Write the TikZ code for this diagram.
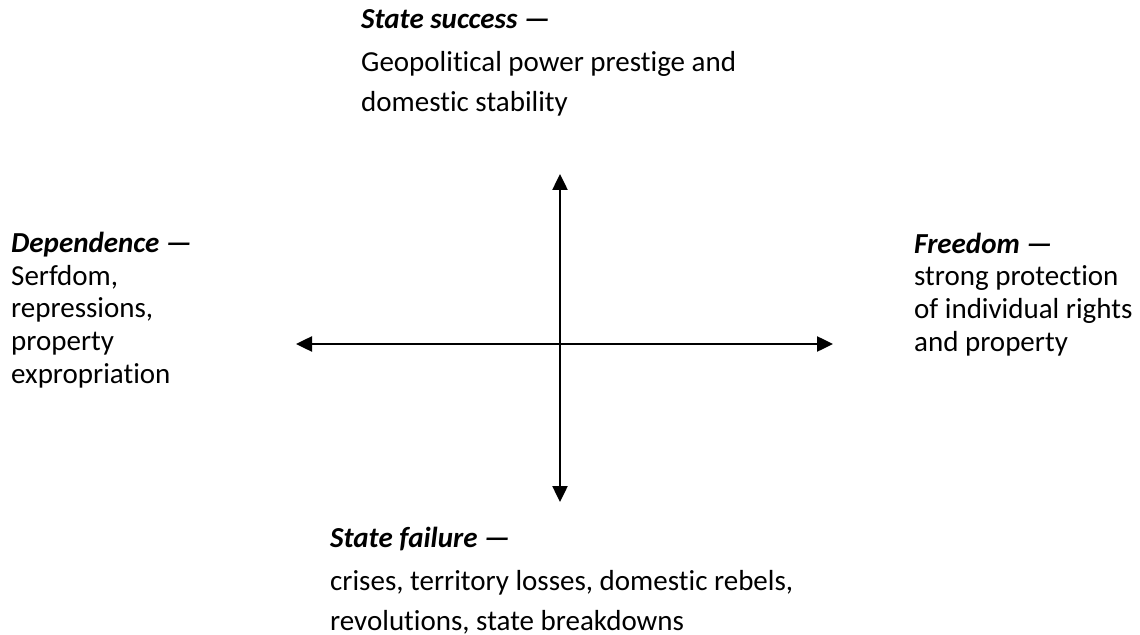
\documentclass[tikz,border=0pt]{standalone}
\usepackage{fontspec}
\setmainfont{Carlito}[Ligatures={NoCommon}]
\usetikzlibrary{arrows.meta}
\begin{document}
\begin{tikzpicture}[x=1bp,y=-1bp,
  axis/.style={line width=2.5bp,{Triangle[length=16bp,width=15bp]}-{Triangle[length=16bp,width=15bp]}},
  lbl/.style={anchor=base west, inner sep=0pt, align=left},
  tight/.style={font=\fontsize{29bp}{32.5bp}\selectfont},
  loose/.style={font=\fontsize{29bp}{40bp}\selectfont}]
\useasboundingbox (0,0) rectangle (1140,635);
\coordinate (top) at (560,174);
\coordinate (bot) at (560,502);
\coordinate (lft) at (296,344);
\coordinate (rgt) at (833,344);
\draw[axis] (lft) -- (rgt);
\draw[axis] (bot) -- (top);
\node[lbl,loose] (succ) at (361,112) {\textbf{\textit{State success —}}\\[3bp]Geopolitical power prestige and\\domestic stability};
\node[lbl,loose] (fail) at (330,630) {\textbf{\textit{State failure —}}\\[3bp]crises, territory losses, domestic rebels,\\revolutions, state breakdowns};
\node[lbl,tight] (dep) at (11,383) {\textbf{\textit{Dependence —}}\\Serfdom,\\repressions,\\property\\expropriation};
\node[lbl,tight] (free) at (914,351) {\textbf{\textit{Freedom —}}\\strong protection\\of individual rights\\and property};
\end{tikzpicture}
\end{document}
